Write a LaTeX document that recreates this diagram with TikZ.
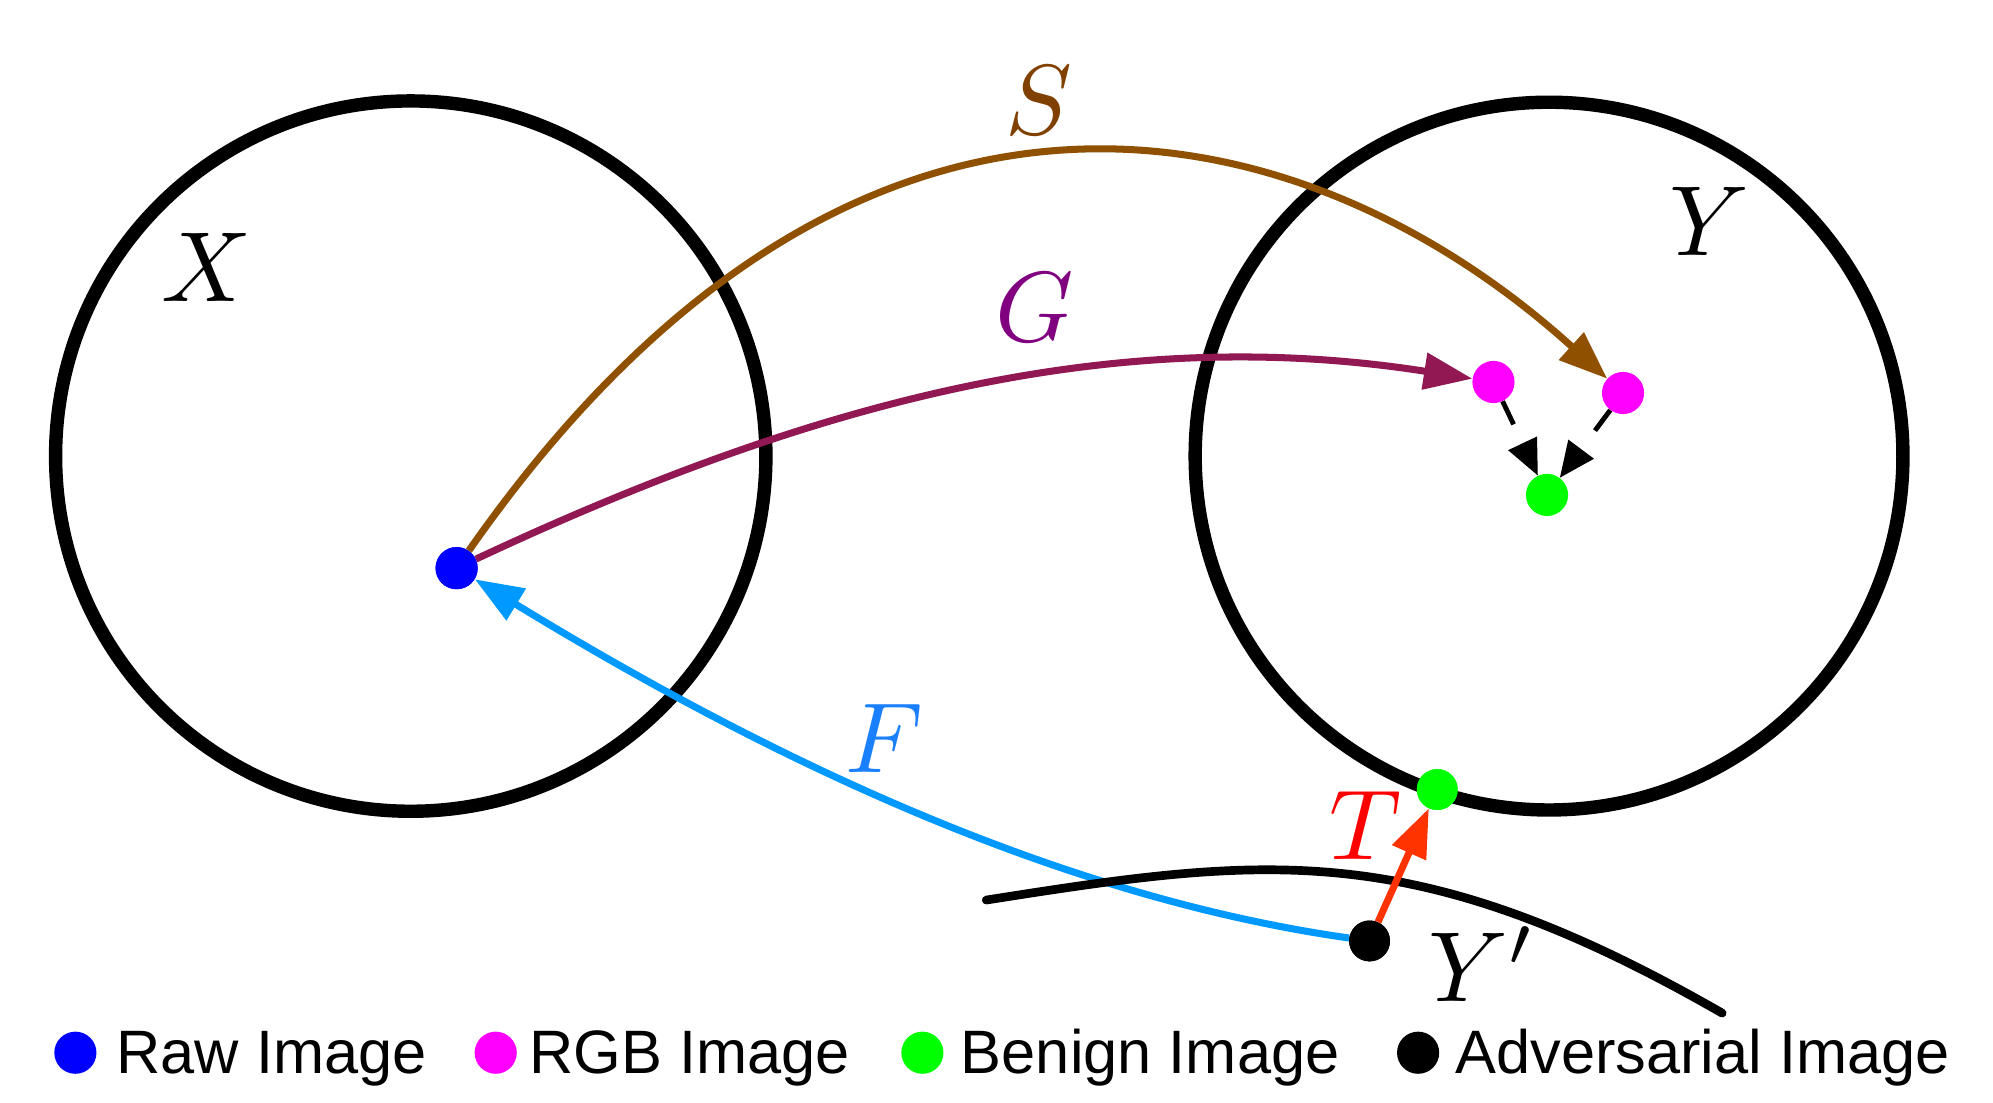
\documentclass[tikz,border=0pt]{standalone}
\usepackage{fontspec}
\setsansfont{Liberation Sans}
\usetikzlibrary{arrows.meta}
\definecolor{sbrown}{RGB}{143,80,0}
\definecolor{slab}{RGB}{128,64,0}
\definecolor{gmaroon}{RGB}{145,24,82}
\definecolor{glab}{RGB}{128,0,128}
\definecolor{fblue}{RGB}{0,153,255}
\definecolor{flab}{RGB}{26,128,255}
\definecolor{tred}{RGB}{255,51,0}
\definecolor{tlab}{RGB}{255,0,0}
\definecolor{rawc}{RGB}{0,0,255}
\definecolor{rgbc}{RGB}{255,0,255}
\definecolor{benc}{RGB}{0,255,0}
\definecolor{advc}{RGB}{0,0,0}
\tikzset{
  dot/.style={circle, inner sep=0pt, minimum size=33pt},
  setline/.style={line width=10.5pt},
  mapping/.style={line width=5.5pt, -{Triangle[length=38pt,width=28pt]}},
  dasharrow/.style={line width=3.8pt, dash pattern=on 20pt off 20pt, -{Triangle[length=28pt,width=24pt]}},
  lab/.style={font=\normalsize, scale=7.8, inner sep=0pt, anchor=base},
  legtext/.style={font=\sffamily\fontsize{48}{56}\selectfont, inner sep=0pt, anchor=base west},
}
\begin{document}
\begin{tikzpicture}[x=1pt,y=-1pt]
\useasboundingbox (0,0) rectangle (1560,862.6);
% sets
\draw[setline] (321.5,357) circle[radius=278];
\draw[setline] (1212.5,357) circle[radius=277];
% points
\node[dot, fill=rawc] (raw) at (357.4,444.7) {};
\node[dot, fill=rgbc] (rgbA) at (1169,299) {};
\node[dot, fill=rgbc] (rgbB) at (1270.4,307.6) {};
\node[dot, fill=benc] (benA) at (1210.9,387.4) {};
\node[dot, fill=benc, minimum size=32pt] (benB) at (1125,618) {};
\node[dot, fill=advc, minimum size=32pt] (adv) at (1072,736.5) {};
% F
\draw[mapping, fblue] (adv) .. controls (813.4,699.8) and (579,580) .. (raw);
% Y' manifold
\draw[line width=6.8pt, line cap=round] (772,704.5) .. controls (992.7,669.7) and (1107.5,655) .. (1348,793);
% T
\draw[mapping, tred] (adv) -- (benB);
% S and G
\draw[mapping, sbrown] (raw) .. controls (674,-8) and (1025.7,86) .. (rgbB);
\draw[mapping, gmaroon] (raw) .. controls (642.8,311) and (876.6,253.1) .. (rgbA);
% dashed
\draw[dasharrow] (rgbA) -- (benA);
\draw[dasharrow] (rgbB) -- (benA);
% redraw dots on top
\node[dot, fill=rawc] at (raw) {};
\node[dot, fill=benc, minimum size=32pt] at (benB) {};
\node[dot, fill=advc, minimum size=32pt] at (adv) {};
% labels
\node[lab] (lX) at (162,236) {$X$};
\node[lab] (lY) at (1338,200) {$Y$};
\node[lab, text=slab] (lS) at (813,105.5) {$S$};
\node[lab, text=glab] (lG) at (810,267) {$G$};
\node[lab, text=flab] (lF) at (692,605) {$F$};
\node[lab, text=tlab] (lT) at (1068.5,673) {$T$};
\node[lab] (lYp) at (1160,784) {$Y'$};
% legend
\node[dot, fill=rawc] (k1) at (59,824) {};
\node[legtext] (t1) at (91,840.6) {Raw Image};
\node[dot, fill=rgbc] (k2) at (388,824) {};
\node[legtext] (t2) at (414,840.6) {RGB Image};
\node[dot, fill=benc] (k3) at (722,824) {};
\node[legtext] (t3) at (752,840.6) {Benign Image};
\node[dot, fill=advc] (k4) at (1110,824) {};
\node[legtext] (t4) at (1139,840.6) {Adversarial Image};
\end{tikzpicture}
\end{document}
